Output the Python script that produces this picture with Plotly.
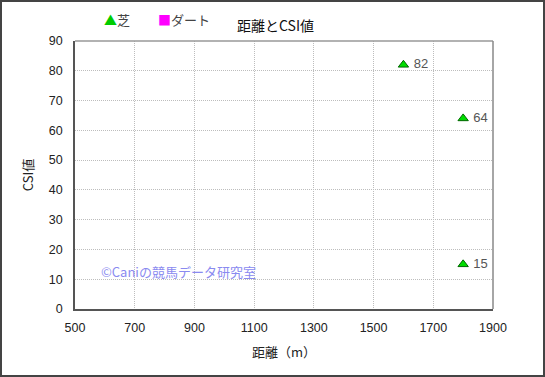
import plotly.graph_objects as go

# Data
turf_distance = [1600, 1800, 1800]
turf_csi = [82, 64, 15]
dirt_distance = []
dirt_csi = []
x_ticks = [500, 700, 900, 1100, 1300, 1500, 1700, 1900]
y_ticks = [0, 10, 20, 30, 40, 50, 60, 70, 80, 90]

W, H = 545, 377
L, R, T, B = 75, 52, 41, 68
pw, ph = W - L - R, H - T - B

def px(x):
    return (x - L) / pw

def py(y):
    return 1 - (y - T) / ph

FONT = "Noto Sans CJK JP, sans-serif"
NUMFONT = "Liberation Sans, Arial, sans-serif"

fig = go.Figure()
fig.add_trace(go.Scatter(
    x=turf_distance, y=turf_csi, mode="markers+text", name="芝",
    marker=dict(symbol="triangle-up", size=9, color="#00dd00",
                line=dict(color="#006600", width=1)),
    text=[" " + str(v) for v in turf_csi], textposition="middle right",
    textfont=dict(size=13, color="#555555", family=NUMFONT),
    showlegend=False, cliponaxis=False,
))
fig.add_trace(go.Scatter(
    x=dirt_distance, y=dirt_csi, mode="markers", name="ダート",
    marker=dict(symbol="square", size=8, color="#ff00ff"),
    showlegend=False,
))

grid = dict(showgrid=True, gridcolor="#bdbdbd", griddash="1px,1px", gridwidth=1)
fig.update_xaxes(
    range=[500, 1900], tickvals=x_ticks, ticks="", zeroline=False,
    showline=True, linecolor="#555555", linewidth=1.5, mirror=False,
    ticklabelstandoff=6,
    title=dict(text="距離（m）", font=dict(size=13, color="#222222", family=FONT), standoff=14),
    tickfont=dict(size=12.5, color="#222222", family=NUMFONT), **grid,
)
fig.update_yaxes(
    range=[0, 90], tickvals=y_ticks, ticks="", zeroline=False,
    showline=True, linecolor="#555555", linewidth=1.5, mirror=False,
    ticklabelstandoff=8,
    title=dict(text="CSI値", font=dict(size=13, color="#222222", family=FONT), standoff=12),
    tickfont=dict(size=12.5, color="#222222", family=NUMFONT), **grid,
)

shapes = [
    dict(type="line", xref="paper", yref="paper", x0=0, x1=1, y0=1, y1=1,
         line=dict(color="#999999", width=1.5)),
    dict(type="line", xref="paper", yref="paper", x0=1, x1=1, y0=0, y1=1,
         line=dict(color="#888888", width=1.5)),
    dict(type="rect", xref="paper", yref="paper",
         x0=px(1), x1=px(W - 1), y0=py(H - 1), y1=py(1),
         line=dict(color="#444444", width=2)),
]

annotations = [
    dict(text="距離とCSI値", xref="paper", yref="paper", x=px(275), y=py(25),
         yanchor="middle", showarrow=False,
         font=dict(size=14, color="#111111", family=FONT)),
    dict(text="<span style='color:#00cc00'>▲</span>芝", xref="paper", yref="paper",
         x=px(102), y=py(19), xanchor="left", yanchor="middle", showarrow=False,
         font=dict(size=13, color="#444444", family=FONT)),
    dict(text="<span style='color:#ff00ff'>■</span>ダート", xref="paper", yref="paper",
         x=px(156), y=py(19), xanchor="left", yanchor="middle", showarrow=False,
         font=dict(size=13, color="#444444", family=FONT)),
    dict(text="©Caniの競馬データ研究室", xref="paper", yref="paper",
         x=px(99), y=py(271), xanchor="left", yanchor="middle", showarrow=False,
         font=dict(size=13, color="#8a8af0", family=FONT)),
]

fig.update_layout(
    width=W, height=H, margin=dict(l=L, r=R, t=T, b=B),
    paper_bgcolor="white", plot_bgcolor="white",
    shapes=shapes, annotations=annotations,
    font=dict(family=FONT),
)

fig.write_html("out.html", config={"displayModeBar": False},
               post_script="document.body.style.margin='0';")
